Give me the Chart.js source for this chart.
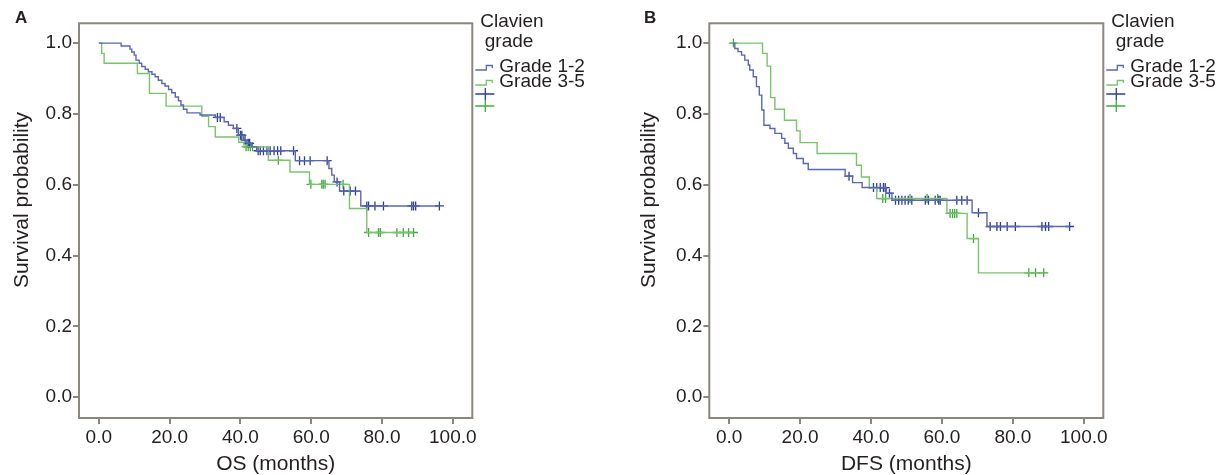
<!DOCTYPE html>
<html>
<head>
<meta charset="utf-8">
<script src="https://cdn.jsdelivr.net/npm/chart.js@4.4.0/dist/chart.umd.min.js"></script>
<style>
  body { margin: 0; background: #fff; }
  #wrap { position: relative; width: 1226px; height: 475px; }
  .panel { position: absolute; top: 0; width: 613px; height: 475px; }
  .tag { position: absolute; top: 8px; font: 600 17px "Liberation Sans", Arial, sans-serif; color: #231f20; }
</style>
</head>
<body>
<div id="wrap">
  <div class="panel" style="left:0"><canvas id="chartA" width="613" height="475"></canvas></div>
  <div class="panel" style="left:613px"><canvas id="chartB" width="613" height="475"></canvas></div>
  <div class="tag" style="left:15px">A</div>
  <div class="tag" style="left:644px">B</div>
</div>
<script>
// axis ticks & labels
const xTicks = [0, 20, 40, 60, 80, 100];
const yTicks = [0, 0.2, 0.4, 0.6, 0.8, 1.0];
const groups = ['Grade 1-2', 'Grade 3-5'];
const legendTitle = ['Clavien', 'grade'];
const yTitle = 'Survival probability';

// OS - grade 1-2 (event times in months, survival after each step, censored times)
const osG12Time = [0, 6.3, 8.8, 9.3, 10.0, 10.5, 11.4, 12.1, 13.1, 14.0, 15.0, 15.9, 16.8, 17.8, 18.7, 19.7, 20.6, 21.6, 22.5, 23.2, 23.9, 24.9, 28.6, 32.9, 35.4, 36.6, 38.0, 39.4, 40.9, 41.8, 43.2, 44.6, 55.5, 65.0, 65.8, 66.5, 68.0, 74.0];
const osG12Surv = [1.0, 0.992, 0.983, 0.975, 0.966, 0.952, 0.943, 0.934, 0.926, 0.919, 0.912, 0.905, 0.895, 0.886, 0.879, 0.869, 0.860, 0.848, 0.837, 0.825, 0.813, 0.803, 0.797, 0.790, 0.778, 0.768, 0.759, 0.740, 0.726, 0.717, 0.707, 0.696, 0.668, 0.646, 0.627, 0.608, 0.582, 0.540];
const osG12Cens = [33.5, 34.3, 39.0, 40.0, 40.4, 41.3, 42.2, 42.6, 45.0, 45.6, 46.5, 47.5, 48.4, 49.5, 50.5, 51.4, 55.0, 56.7, 58.1, 59.7, 64.5, 67.3, 69.2, 71.0, 72.5, 75.7, 76.2, 78.0, 80.4, 88.4, 88.9, 89.5, 96.2];

// OS - grade 3-5
const osG35Time = [0, 0.8, 1.5, 10.9, 14.3, 19.0, 29.1, 31.0, 32.9, 39.5, 41.0, 47.9, 54.0, 59.5, 70.8, 75.7];
const osG35Surv = [1.0, 0.971, 0.943, 0.914, 0.858, 0.822, 0.793, 0.764, 0.735, 0.720, 0.707, 0.669, 0.636, 0.601, 0.533, 0.465];
const osG35Cens = [41.6, 42.2, 42.8, 43.4, 50.7, 59.9, 63.0, 63.4, 63.9, 69.0, 76.2, 79.0, 79.5, 84.2, 86.0, 87.5, 88.9];

// DFS - grade 1-2
const dfsG12Time = [1.0, 1.6, 2.5, 3.5, 4.4, 5.4, 5.8, 6.8, 7.7, 8.5, 9.2, 9.8, 11.5, 12.9, 14.8, 15.7, 16.7, 18.1, 19.0, 20.9, 22.3, 32.7, 34.8, 37.5, 44.3, 45.9, 68.5, 72.7];
const dfsG12Surv = [1.0, 0.985, 0.976, 0.966, 0.952, 0.938, 0.924, 0.905, 0.877, 0.853, 0.811, 0.768, 0.759, 0.745, 0.731, 0.717, 0.703, 0.688, 0.674, 0.660, 0.643, 0.624, 0.606, 0.592, 0.576, 0.556, 0.521, 0.482];
const dfsG12Cens = [33.8, 40.7, 41.6, 42.6, 43.5, 44.0, 45.2, 46.9, 47.8, 48.7, 49.6, 50.5, 51.5, 55.3, 56.2, 58.1, 59.1, 59.5, 64.2, 65.6, 67.1, 70.3, 73.6, 75.5, 76.5, 78.4, 80.7, 88.2, 89.2, 90.1, 96.0];

// DFS - grade 3-5
const dfsG35Time = [1.0, 9.4, 10.7, 11.7, 12.9, 15.6, 19.0, 20.0, 24.8, 35.9, 37.3, 39.5, 41.6, 61.4, 67.1, 70.3];
const dfsG35Surv = [1.0, 0.971, 0.935, 0.846, 0.813, 0.782, 0.752, 0.719, 0.688, 0.655, 0.622, 0.590, 0.561, 0.519, 0.448, 0.351];
const dfsG35Cens = [1.2, 43.3, 44.1, 51.0, 55.8, 58.8, 62.3, 63.0, 63.6, 64.2, 68.9, 84.5, 86.4, 88.7];

const blueLine = '#5a68b2', blueMark = '#2c3c98';
const greenLine = '#79c36b', greenMark = '#3faa40';
const axisGrey = '#8c8680', textCol = '#231f20';
const family = '"Liberation Sans", Arial, sans-serif';

// value of the step curve at time t
function survAt(times, surv, t) {
  let s = surv[0];
  for (let i = 0; i < times.length; i++) if (times[i] <= t) s = surv[i];
  return s;
}
function curve(times, surv, cens) {
  const pts = times.map((t, i) => ({ x: t, y: surv[i] }));
  const end = Math.max(times[times.length - 1], ...cens);
  pts.push({ x: end, y: surv[surv.length - 1] });
  return pts;
}
function marks(times, surv, cens) {
  return cens.map(t => ({ x: t, y: survAt(times, surv, t) }));
}

// box, y title and the legend
const extras = {
  id: 'extras',
  afterDraw(chart, args, opts) {
    const { ctx, chartArea: a } = chart;
    ctx.save();
    ctx.strokeStyle = axisGrey;
    ctx.lineWidth = 2;
    ctx.strokeRect(a.left, a.top, a.right - a.left, a.bottom - a.top);

    ctx.fillStyle = textCol;
    ctx.font = '21px ' + family;
    ctx.textAlign = 'center';
    ctx.textBaseline = 'middle';
    ctx.save();
    ctx.translate(opts.titleX, 200);
    ctx.rotate(-Math.PI / 2);
    ctx.fillText(yTitle, 0, 0);
    ctx.restore();

    const L = a.right;
    ctx.font = '19px ' + family;
    ctx.textAlign = 'left';
    ctx.fillText(legendTitle[0], L + 8, 22);
    ctx.fillText(legendTitle[1], L + 12.5, 42);
    ctx.fillText(groups[0], L + 27, 67);
    ctx.fillText(groups[1], L + 27, 82);

    ctx.lineWidth = 1.3;
    [[blueLine, 70], [greenLine, 85]].forEach(([c, y]) => {
      ctx.strokeStyle = c;
      ctx.beginPath();
      ctx.moveTo(L + 3, y);
      ctx.lineTo(L + 14, y);
      ctx.lineTo(L + 14, y - 4.5);
      ctx.lineTo(L + 20, y - 4.5);
      ctx.lineTo(L + 20, y - 2);
      ctx.stroke();
    });
    [[blueMark, 94], [greenMark, 106]].forEach(([c, y]) => {
      ctx.strokeStyle = c;
      ctx.beginPath();
      ctx.moveTo(L + 3, y); ctx.lineTo(L + 22, y);
      ctx.moveTo(L + 13, y - 6); ctx.lineTo(L + 13, y + 6);
      ctx.stroke();
    });
    ctx.restore();
  }
};

function makeChart(id, g12, g35, xTitle, geom) {
  const tickFont = { family: family, size: 19 };
  return new Chart(document.getElementById(id), {
    type: 'line',
    data: {
      datasets: [
        { data: curve(...g12), borderColor: blueLine, borderWidth: 1.4, stepped: 'before', pointRadius: 0, fill: false },
        { data: curve(...g35), borderColor: greenLine, borderWidth: 1.4, stepped: 'before', pointRadius: 0, fill: false },
        { data: marks(...g12), showLine: false, pointStyle: 'cross', pointRadius: 4.5, borderColor: blueMark, pointBorderWidth: 1.3 },
        { data: marks(...g35), showLine: false, pointStyle: 'cross', pointRadius: 4.5, borderColor: greenMark, pointBorderWidth: 1.3 }
      ]
    },
    options: {
      responsive: false,
      animation: false,
      layout: { padding: { left: 0, right: geom.right, top: 23.3, bottom: 0 } },
      plugins: { legend: { display: false }, tooltip: { enabled: false }, extras: { titleX: geom.titleX } },
      scales: {
        x: {
          type: 'linear', min: -5.6, max: 105.5,
          afterBuildTicks: s => { s.ticks = xTicks.map(v => ({ value: v })); },
          afterFit: s => { s.height = 57; },
          border: { display: false },
          grid: { drawOnChartArea: false, color: axisGrey, lineWidth: 2, tickLength: 6 },
          ticks: { callback: v => v.toFixed(1), font: tickFont, color: textCol, padding: 2, maxRotation: 0, autoSkip: false },
          title: { display: true, text: xTitle, font: { family: family, size: 21, lineHeight: 1.0 }, color: textCol, padding: { top: 0, bottom: 0 } }
        },
        y: {
          min: -0.059, max: 1.056,
          afterBuildTicks: s => { s.ticks = yTicks.map(v => ({ value: v })); },
          afterFit: s => { s.width = geom.yw; },
          border: { display: false },
          grid: { drawOnChartArea: false, color: axisGrey, lineWidth: 2, tickLength: 6 },
          ticks: { callback: v => v.toFixed(1), font: tickFont, color: textCol, padding: 1 }
        }
      }
    },
    plugins: [extras]
  });
}

makeChart('chartA', [osG12Time, osG12Surv, osG12Cens], [osG35Time, osG35Surv, osG35Cens], 'OS (months)',
  { yw: 79, right: 140.7, titleX: 22 });
makeChart('chartB', [dfsG12Time, dfsG12Surv, dfsG12Cens], [dfsG35Time, dfsG35Surv, dfsG35Cens], 'DFS (months)',
  { yw: 96.3, right: 122.7, titleX: 36 });
</script>
</body>
</html>
